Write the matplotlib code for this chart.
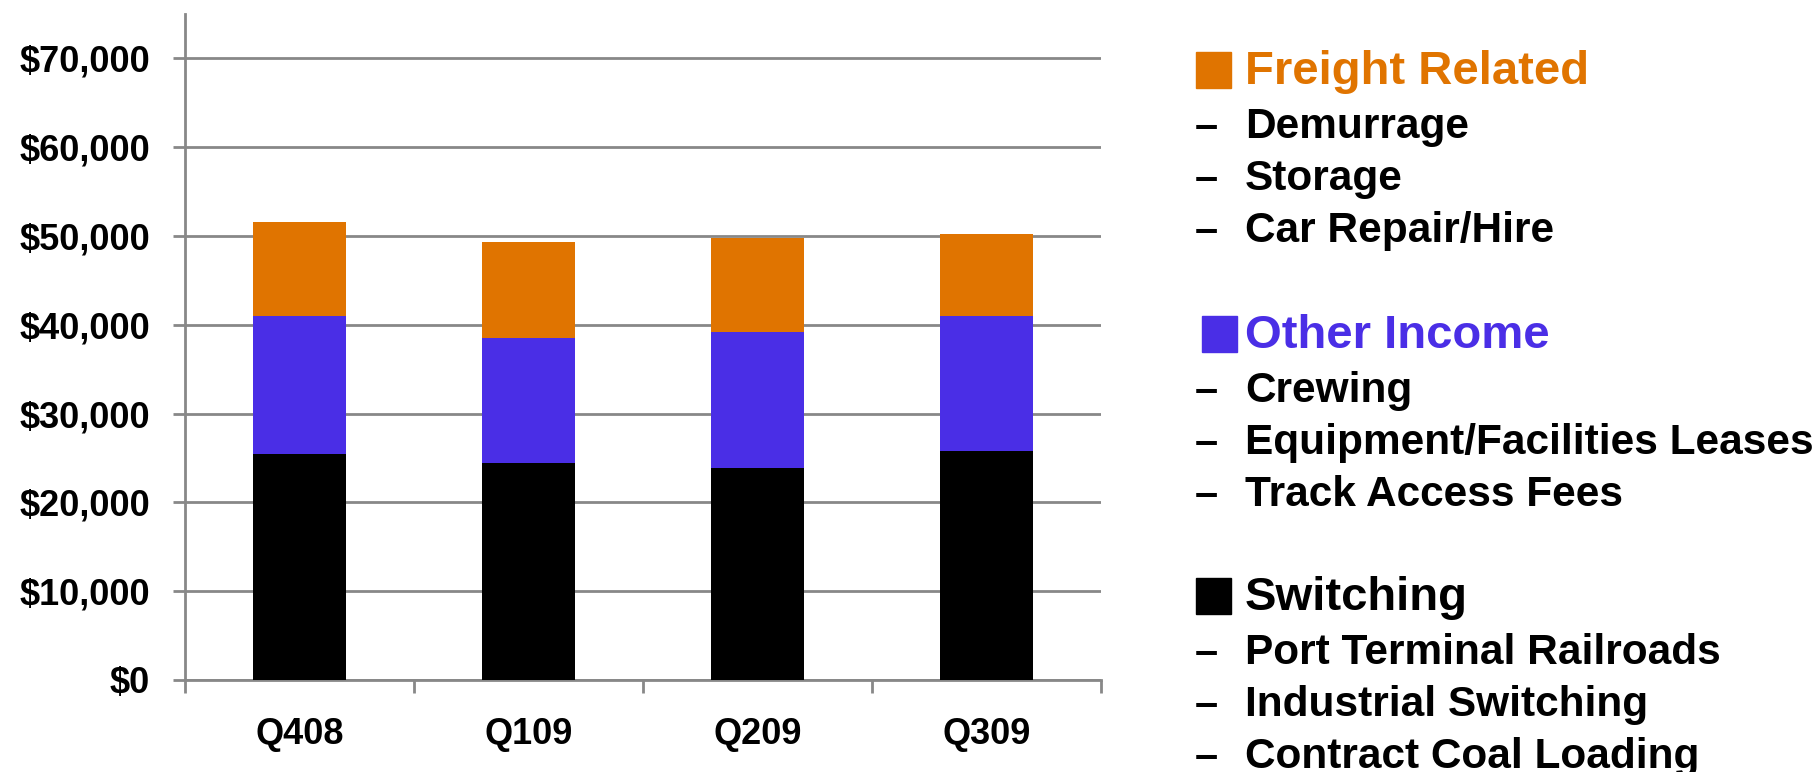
import matplotlib
matplotlib.use("Agg")
import matplotlib.pyplot as plt
from matplotlib.patches import Rectangle

# quarterly revenue by type
quarters = ["Q408", "Q109", "Q209", "Q309"]
switching = [25400, 24400, 23900, 25800]
other_income = [15600, 14100, 15300, 15200]
freight_related = [10600, 10800, 10600, 9200]

yticks = [0, 10000, 20000, 30000, 40000, 50000, 60000, 70000]

legend_groups = [
    ("Freight Related", "#E07400", ["Demurrage", "Storage", "Car Repair/Hire"]),
    ("Other Income", "#4A2EE6", ["Crewing", "Equipment/Facilities Leases", "Track Access Fees"]),
    ("Switching", "#000000", ["Port Terminal Railroads", "Industrial Switching", "Contract Coal Loading"]),
]

plt.rcParams['font.family'] = ['Liberation Sans', 'DejaVu Sans']
plt.rcParams['font.weight'] = 'bold'

W, H = 1820, 772
fig = plt.figure(figsize=(W / 100, H / 100), dpi=100)
ax = fig.add_axes([185 / W, 1 - 680 / H, (1101 - 185) / W, (680 - 14) / H])

grey = "#888888"
x = range(len(quarters))
bottom2 = [a + b for a, b in zip(switching, other_income)]
ax.bar(x, switching, width=0.41, color="#000000", zorder=3)
ax.bar(x, other_income, width=0.41, bottom=switching, color="#4A2EE6", zorder=3)
ax.bar(x, freight_related, width=0.41, bottom=bottom2, color="#E07400", zorder=3)

ax.set_xlim(-0.5, len(quarters) - 0.5)
ax.set_ylim(0, 75000)
ax.set_yticks(yticks)
ax.set_yticklabels(["${:,}".format(v) for v in yticks])
ax.yaxis.grid(True, color=grey, linewidth=2, zorder=0)
ax.set_axisbelow(True)

# category labels centred, ticks at category boundaries
ax.set_xticks(list(x))
ax.set_xticklabels(quarters)
ax.set_xticks([i + 0.5 for i in range(-1, len(quarters))], minor=True)
ax.tick_params(axis='x', which='major', length=0, pad=27, labelsize=26)
ax.tick_params(axis='x', which='minor', length=9, width=2, color=grey, direction='out')
ax.tick_params(axis='y', length=9, width=2, color=grey, direction='out', pad=16, labelsize=26)

for s in ['top', 'right']:
    ax.spines[s].set_visible(False)
for s in ['left', 'bottom']:
    ax.spines[s].set_color(grey)
    ax.spines[s].set_linewidth(2)

# legend drawn as text block on the right
heading_y = [72, 336, 598]
square_x = [1196, 1202, 1196]
item_step = 52
for (title, col, items), hy, sx in zip(legend_groups, heading_y, square_x):
    fig.patches.append(Rectangle((sx / W, 1 - (hy + 16) / H), 35 / W, 36 / H,
                                 transform=fig.transFigure, color=col, figure=fig))
    fig.text(1245 / W, 1 - hy / H, title, color=col, fontsize=34, fontweight='bold', va='center')
    for k, item in enumerate(items):
        yy = 1 - (hy + 55 + k * item_step) / H
        fig.text(1195 / W, yy, "\u2013", fontsize=30, fontweight='bold', va='center')
        fig.text(1245 / W, yy, item, fontsize=30.5, fontweight='bold', va='center')

fig.savefig("out.png", dpi=100)
